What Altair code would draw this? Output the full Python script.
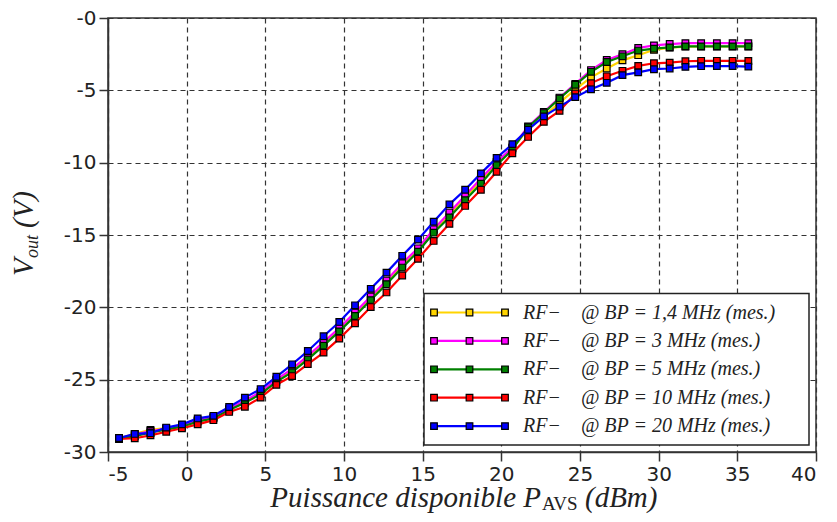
import altair as alt
import pandas as pd

# ---- data ----
x_dbm = [-4.3, -3.3, -2.3, -1.3, -0.3, 0.7, 1.7, 2.7, 3.7, 4.7,
         5.7, 6.7, 7.7, 8.7, 9.7, 10.7, 11.7, 12.7, 13.7, 14.7,
         15.7, 16.7, 17.7, 18.7, 19.7, 20.7, 21.7, 22.7, 23.7, 24.7,
         25.7, 26.7, 27.7, 28.7, 29.7, 30.7, 31.7, 32.7, 33.7, 34.7, 35.7]

v_bp_1_4 = [-29.05, -28.75, -28.47, -28.35, -28.2, -27.85, -27.62, -27.05, -26.5, -25.9,
            -25.05, -24.35, -23.45, -22.5, -21.5, -20.45, -19.35, -18.25, -17.1, -16.0,
            -14.7, -13.6, -12.4, -11.25, -10.05, -9.0, -7.7, -6.8, -5.85, -4.93,
            -4.1, -3.49, -2.93, -2.57, -2.2, -2.05, -1.98, -1.97, -1.97, -1.97, -1.97]
v_bp_3 = [-29.05, -28.8, -28.55, -28.4, -28.15, -27.8, -27.6, -27.0, -26.45, -25.85,
          -25.0, -24.26, -23.35, -22.4, -21.44, -20.35, -19.25, -18.15, -16.95, -15.92,
          -14.6, -13.45, -12.27, -11.1, -9.95, -8.95, -7.5, -6.5, -5.5, -4.55,
          -3.6, -2.9, -2.5, -2.07, -1.89, -1.8, -1.74, -1.74, -1.74, -1.74, -1.74]
v_bp_5 = [-29.08, -28.9, -28.65, -28.45, -28.25, -27.9, -27.68, -27.1, -26.6, -26.0,
          -25.15, -24.48, -23.6, -22.65, -21.66, -20.6, -19.5, -18.4, -17.25, -16.15,
          -14.84, -13.78, -12.59, -11.46, -10.18, -9.1, -7.55, -6.57, -5.56, -4.62,
          -3.72, -3.04, -2.65, -2.25, -2.12, -2.03, -1.96, -1.96, -1.96, -1.96, -1.96]
v_bp_10 = [-29.1, -29.05, -28.85, -28.6, -28.36, -28.09, -27.8, -27.23, -26.87, -26.24,
           -25.36, -24.75, -23.92, -23.13, -22.16, -21.1, -19.98, -18.97, -17.8, -16.64,
           -15.41, -14.23, -12.99, -11.87, -10.63, -9.35, -8.22, -7.18, -6.42, -5.22,
           -4.5, -4.03, -3.65, -3.31, -3.13, -3.09, -2.99, -2.96, -2.96, -2.96, -2.97]
v_bp_20 = [-29.03, -28.75, -28.7, -28.31, -28.09, -27.68, -27.5, -26.89, -26.24, -25.65,
           -24.8, -23.94, -23.02, -22.0, -21.01, -19.86, -18.72, -17.6, -16.44, -15.32,
           -14.08, -12.88, -11.87, -10.74, -9.67, -8.72, -7.72, -6.8, -6.13, -5.47,
           -4.93, -4.48, -3.95, -3.76, -3.54, -3.49, -3.38, -3.33, -3.32, -3.32, -3.36]

series_names = ["1,4 MHz", "3 MHz", "5 MHz", "10 MHz", "20 MHz"]
series_values = [v_bp_1_4, v_bp_3, v_bp_5, v_bp_10, v_bp_20]
series_colors = ["#FFD400", "#FF00FF", "#008000", "#FF0000", "#0000FF"]
legend_labels = [
    "RF\u2212\u2003@ BP = 1,4 MHz (mes.)",
    "RF\u2212\u2003@ BP = 3 MHz (mes.)",
    "RF\u2212\u2003@ BP = 5 MHz (mes.)",
    "RF\u2212\u2003@ BP = 10 MHz (mes.)",
    "RF\u2212\u2003@ BP = 20 MHz (mes.)",
]
x_ticks = [-5, 0, 5, 10, 15, 20, 25, 30, 35, 40]
y_ticks = [-30, -25, -20, -15, -10, -5, 0]

rows = []
for name, vals in zip(series_names, series_values):
    for xv, yv in zip(x_dbm, vals):
        rows.append({"s": name, "x": xv, "y": yv})
df = pd.DataFrame(rows)

W, H = 708, 434

xs = alt.Scale(domain=[-5, 40], nice=False, zero=False)
ys = alt.Scale(domain=[-30, 0], nice=False, zero=False)
x_axis = alt.Axis(values=x_ticks, title=None, grid=True,
                  labelExpr="datum.value < 0 ? '-' + abs(datum.value) : '' + datum.value")
y_axis = alt.Axis(values=y_ticks, title=None, grid=True,
                  labelExpr="'-' + abs(datum.value)")

layers = []
for name, col in zip(series_names, series_colors):
    base = alt.Chart(df).transform_filter(alt.datum.s == name).encode(
        x=alt.X("x:Q", scale=xs, axis=x_axis),
        y=alt.Y("y:Q", scale=ys, axis=y_axis),
    )
    layers.append(base.mark_line(color=col, strokeWidth=2.2))
    layers.append(base.mark_point(shape="square", filled=True, fill=col, stroke="black",
                                  strokeWidth=1.2, size=44, opacity=1))


def one():
    return alt.Chart(alt.Data(values=[{"k": 0}]))


serif = "Liberation Serif"

# legend box
layers.append(one().mark_rect(fill="white", stroke="#222", strokeWidth=1.5).encode(
    x=alt.value(316), x2=alt.value(701), y=alt.value(275.5), y2=alt.value(427)))

for i, (lab, col) in enumerate(zip(legend_labels, series_colors)):
    yy = 294.5 + i * 28.4
    layers.append(one().mark_rule(color=col, strokeWidth=2.2).encode(
        x=alt.value(326), x2=alt.value(397), y=alt.value(yy)))
    for px in (326, 361.5, 397):
        layers.append(one().mark_point(shape="square", filled=True, fill=col, stroke="black",
                                       strokeWidth=1.2, size=44, opacity=1).encode(
            x=alt.value(px), y=alt.value(yy)))
    layers.append(one().mark_text(text=lab, align="left", baseline="middle",
                                  font=serif, fontStyle="italic",
                                  fontSize=20, color="#222").encode(
        x=alt.value(415), y=alt.value(yy)))

# x-axis title with subscript
layers.append(one().mark_text(text="Puissance disponible P", align="right", baseline="alphabetic",
                              font=serif, fontStyle="italic", fontSize=29,
                              color="#222").encode(x=alt.value(433), y=alt.value(489)))
layers.append(one().mark_text(text="AVS", align="left", baseline="alphabetic",
                              font=serif, fontSize=19,
                              color="#222").encode(x=alt.value(434), y=alt.value(492)))
layers.append(one().mark_text(text="(dBm)", align="left", baseline="alphabetic",
                              font=serif, fontStyle="italic", fontSize=29,
                              color="#222").encode(x=alt.value(477), y=alt.value(489)))

# y-axis title with subscript (rotated)
layers.append(one().mark_text(text="V", angle=270, align="left", baseline="alphabetic",
                              font=serif, fontStyle="italic", fontSize=29,
                              color="#222").encode(x=alt.value(-75), y=alt.value(258)))
layers.append(one().mark_text(text="out", angle=270, align="left", baseline="alphabetic",
                              font=serif, fontStyle="italic", fontSize=18,
                              color="#222").encode(x=alt.value(-70), y=alt.value(240)))
layers.append(one().mark_text(text="(V)", angle=270, align="right", baseline="alphabetic",
                              font=serif, fontStyle="italic", fontSize=29,
                              color="#222").encode(x=alt.value(-75), y=alt.value(173)))

chart = alt.layer(*layers).properties(
    width=W, height=H,
    padding={"left": 100, "top": 10, "right": 13, "bottom": 62},
    autosize="none",
).configure_view(stroke="#333", strokeWidth=1.5).configure_axis(
    domainColor="#333", domainWidth=1.5, tickColor="#333", tickWidth=1.5, tickSize=9,
    gridColor="#333", gridDash=[5, 4], gridWidth=1.2, gridOpacity=1,
    labelFont="DejaVu Sans", labelFontSize=20, labelColor="#222", labelPadding=3,
)

chart.save("out.html", embed_options={"renderer": "svg", "actions": False})
